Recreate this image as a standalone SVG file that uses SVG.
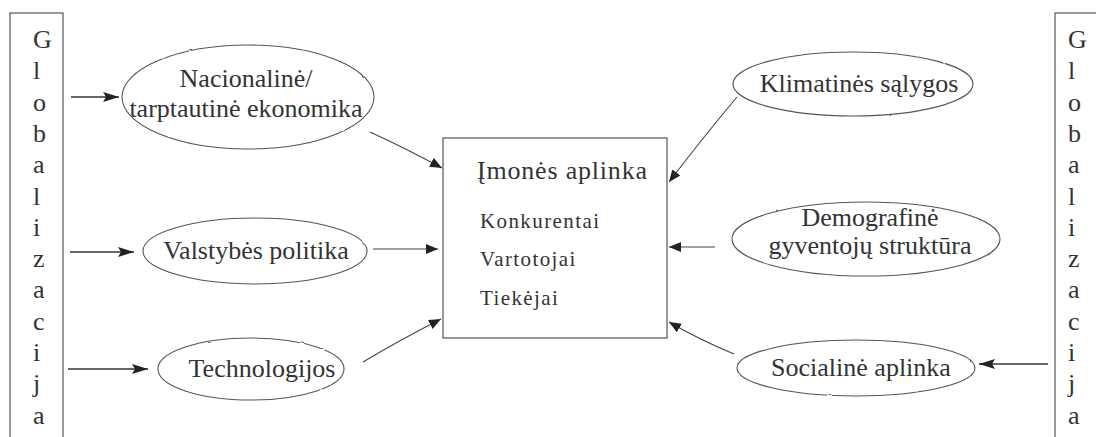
<svg xmlns="http://www.w3.org/2000/svg" width="1096" height="437" viewBox="0 0 1096 437">
  <style>
    text { font-family: "Liberation Serif", "Times New Roman", serif; fill: #333; }
    .big { font-size: 26px; }
    .side { font-size: 26px; }
    .title { font-size: 26px; letter-spacing: 0.8px; }
    .item { font-size: 21px; letter-spacing: 1.4px; }
    .frame { fill: #fff; stroke: #555; stroke-width: 1.2; }
    .oval { fill: #fff; stroke: #555; stroke-width: 1.1; filter: url(#rough); }
    .link { fill: none; stroke: #444; stroke-width: 1.1; marker-end: url(#head); }
    .feed { fill: none; stroke: #333; stroke-width: 1.4; marker-end: url(#headBig); }
  </style>
  <defs>
    <filter id="rough" x="-5%" y="-10%" width="110%" height="120%">
      <feTurbulence type="fractalNoise" baseFrequency="0.15" numOctaves="1" seed="3" result="n"/>
      <feDisplacementMap in="SourceGraphic" in2="n" scale="2" xChannelSelector="R" yChannelSelector="G"/>
    </filter>
    <marker id="head" viewBox="0 0 12 10" refX="12" refY="5" markerWidth="12" markerHeight="10" markerUnits="userSpaceOnUse" orient="auto">
      <path d="M0,0 L12,5 L0,10 Z" fill="#222"/>
    </marker>
    <marker id="headBig" viewBox="0 0 16 10" refX="16" refY="5" markerWidth="16" markerHeight="10" markerUnits="userSpaceOnUse" orient="auto">
      <path d="M0,0 L16,5 L0,10 L3,5 Z" fill="#222"/>
    </marker>
  </defs>

  <!-- left globalisation band -->
  <g id="globalizacija-left">
    <rect class="frame" x="10" y="13" width="53" height="440"/>
    <text class="side" x="33" y="48">G</text>
    <text class="side" x="33" y="79.3">l</text>
    <text class="side" x="33" y="110.6">o</text>
    <text class="side" x="33" y="141.9">b</text>
    <text class="side" x="33" y="173.2">a</text>
    <text class="side" x="33" y="204.5">l</text>
    <text class="side" x="33" y="235.8">i</text>
    <text class="side" x="33" y="267.1">z</text>
    <text class="side" x="33" y="298.4">a</text>
    <text class="side" x="33" y="329.7">c</text>
    <text class="side" x="33" y="361">i</text>
    <text class="side" x="33" y="392.3">j</text>
    <text class="side" x="33" y="423.6">a</text>
  </g>

  <!-- right globalisation band -->
  <g id="globalizacija-right">
    <rect class="frame" x="1055" y="13" width="60" height="440"/>
    <text class="side" x="1068" y="48">G</text>
    <text class="side" x="1068" y="79.3">l</text>
    <text class="side" x="1068" y="110.6">o</text>
    <text class="side" x="1068" y="141.9">b</text>
    <text class="side" x="1068" y="173.2">a</text>
    <text class="side" x="1068" y="204.5">l</text>
    <text class="side" x="1068" y="235.8">i</text>
    <text class="side" x="1068" y="267.1">z</text>
    <text class="side" x="1068" y="298.4">a</text>
    <text class="side" x="1068" y="329.7">c</text>
    <text class="side" x="1068" y="361">i</text>
    <text class="side" x="1068" y="392.3">j</text>
    <text class="side" x="1068" y="423.6">a</text>
  </g>

  <!-- central environment box -->
  <g id="imones-aplinka">
    <rect class="frame" x="443" y="138" width="224" height="200"/>
    <text class="title" x="477" y="179">Įmonės aplinka</text>
    <text class="item" x="480" y="228">Konkurentai</text>
    <text class="item" x="480" y="266">Vartotojai</text>
    <text class="item" x="480" y="305">Tiekėjai</text>
  </g>

  <g id="ekonomika">
    <ellipse class="oval" cx="248" cy="97" rx="126" ry="52"/>
    <text class="big" x="246" y="87" text-anchor="middle">Nacionalinė/</text>
    <text class="big" x="246" y="117" text-anchor="middle">tarptautinė ekonomika</text>
  </g>

  <g id="politika">
    <ellipse class="oval" cx="255" cy="251" rx="112" ry="33"/>
    <text class="big" x="256" y="259" text-anchor="middle">Valstybės politika</text>
  </g>

  <g id="technologijos">
    <ellipse class="oval" cx="251" cy="369" rx="93" ry="31"/>
    <text class="big" x="262" y="377" text-anchor="middle">Technologijos</text>
  </g>

  <g id="klimatines">
    <ellipse class="oval" cx="853" cy="84" rx="120" ry="32"/>
    <text class="big" x="859" y="92" text-anchor="middle">Klimatinės sąlygos</text>
  </g>

  <g id="demografine">
    <ellipse class="oval" cx="866" cy="239" rx="134" ry="37"/>
    <text class="big" x="870" y="226" text-anchor="middle">Demografinė</text>
    <text class="big" x="870" y="254" text-anchor="middle">gyventojų struktūra</text>
  </g>

  <g id="socialine">
    <ellipse class="oval" cx="856" cy="368" rx="119" ry="28"/>
    <text class="big" x="861" y="376" text-anchor="middle">Socialinė aplinka</text>
  </g>

  <!-- connectors -->
  <g id="connectors">
    <path class="feed" d="M71,97 L119,97"/>
    <path class="feed" d="M70,252 L134,252"/>
    <path class="feed" d="M68,369 L148,369"/>
    <path class="feed" d="M1048,364 L979,364"/>

    <path class="link" d="M370,132 Q405,148 442,168"/>
    <path class="link" d="M373,249 L438,249"/>
    <path class="link" d="M363,362 Q400,340 441,319"/>
    <path class="link" d="M737,97 Q705,135 669,182"/>
    <path class="link" d="M715,247 L669,247"/>
    <path class="link" d="M734,354 Q700,340 669,322"/>
  </g>
</svg>
